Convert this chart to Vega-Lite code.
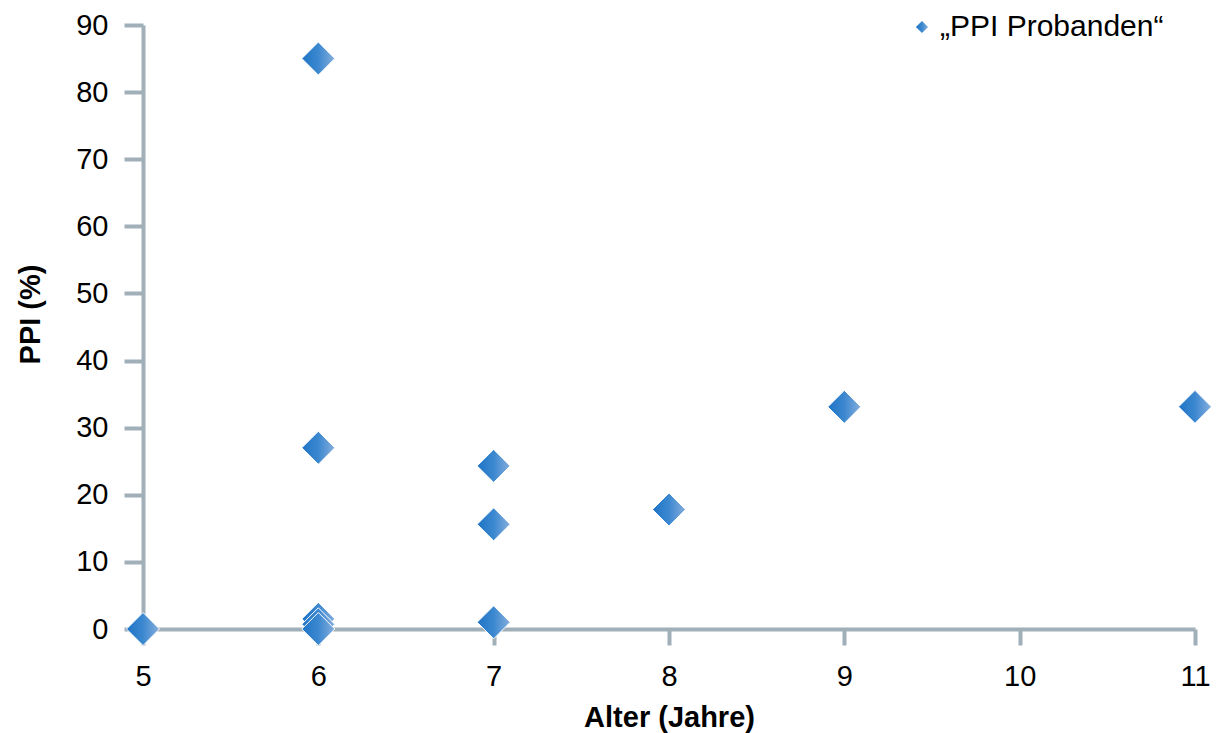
{
  "$schema": "https://vega.github.io/schema/vega-lite/v6.json",
  "autosize": "none",
  "width": 1052,
  "height": 604,
  "padding": {"left": 143, "top": 25, "right": 23, "bottom": 104},
  "background": "white",
  "config": {
    "view": {"stroke": null},
    "font": "Liberation Sans",
    "axis": {"grid": false, "domainColor": "#A0AFB8", "domainWidth": 4, "tickColor": "#A0AFB8", "tickWidth": 4, "labelFont": "Liberation Sans", "labelFontSize": 29, "labelColor": "#000000", "labelFlush": false, "titleFont": "Liberation Sans", "titleFontSize": 29, "titleFontWeight": "bold", "titleColor": "#000000"}
  },
  "data": {"values": [
    {"alter": 5, "ppi": 0},
    {"alter": 6, "ppi": 85},
    {"alter": 6, "ppi": 27},
    {"alter": 6, "ppi": 1.5},
    {"alter": 6, "ppi": 0.7},
    {"alter": 6, "ppi": 0},
    {"alter": 7, "ppi": 24.3},
    {"alter": 7, "ppi": 15.6},
    {"alter": 7, "ppi": 1},
    {"alter": 8, "ppi": 17.8},
    {"alter": 9, "ppi": 33.1},
    {"alter": 11, "ppi": 33.1}
  ]},
  "mark": {
    "type": "point",
    "shape": "diamond",
    "filled": true,
    "size": 1090,
    "opacity": 1,
    "fill": {"gradient": "linear", "x1": 0, "y1": 0, "x2": 1, "y2": 0, "stops": [{"offset": 0, "color": "#1E74C6"}, {"offset": 0.5, "color": "#3C88D0"}, {"offset": 1, "color": "#86AEDD"}]},
    "stroke": "#FFFFFF",
    "strokeWidth": 1
  },
  "encoding": {
    "x": {"field": "alter", "type": "quantitative", "scale": {"domain": [5, 11], "nice": false, "zero": false}, "axis": {"values": [5, 6, 7, 8, 9, 10, 11], "tickSize": 16, "labelPadding": 17, "title": "Alter (Jahre)", "titlePadding": 12}},
    "y": {"field": "ppi", "type": "quantitative", "scale": {"domain": [0, 90], "nice": false}, "axis": {"values": [0, 10, 20, 30, 40, 50, 60, 70, 80, 90], "tickSize": 19, "labelPadding": 16, "title": "PPI (%)", "titlePadding": 30, "titleY": 289}},
    "shape": {"datum": "„PPI Probanden“", "scale": {"range": ["diamond"]}, "legend": {"title": null, "orient": "none", "legendX": 764, "legendY": -13, "symbolSize": 150, "symbolFillColor": "#2E7BCB", "symbolStrokeColor": "#FFFFFF", "symbolStrokeWidth": 0.5, "labelFontSize": 30, "labelFont": "Liberation Sans", "labelColor": "#000000", "labelOffset": 3, "labelLimit": 400}}
  }
}
